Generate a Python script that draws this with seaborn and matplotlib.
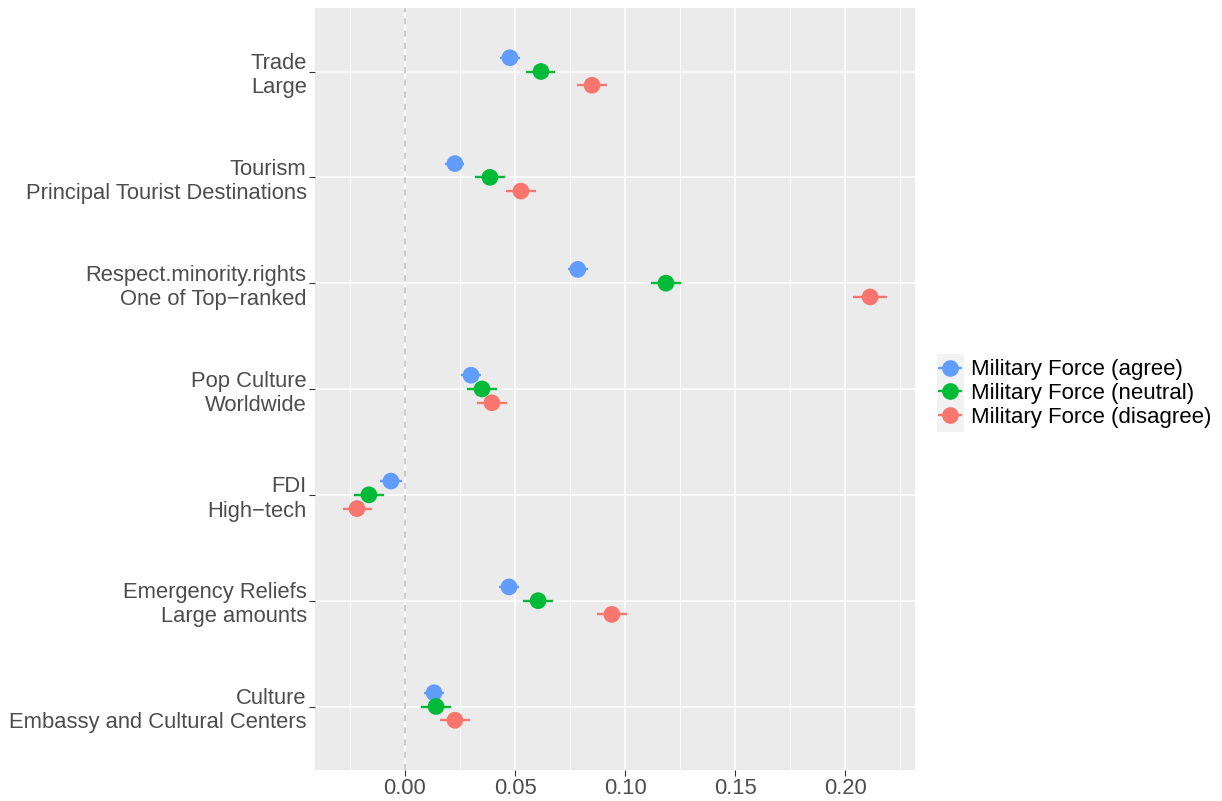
import numpy as np
import pandas as pd
import matplotlib.pyplot as plt
import seaborn as sns
from matplotlib.lines import Line2D
from matplotlib.patches import Rectangle

# -----------------------------
# Data
# -----------------------------
categories = [
    "Trade\nLarge",
    "Tourism\nPrincipal Tourist Destinations",
    "Respect.minority.rights\nOne of Top\u2212ranked",
    "Pop Culture\nWorldwide",
    "FDI\nHigh\u2212tech",
    "Emergency Reliefs\nLarge amounts",
    "Culture\nEmbassy and Cultural Centers",
]
groups = ["Military Force (agree)", "Military Force (neutral)", "Military Force (disagree)"]

agree_est = [0.0477, 0.0227, 0.0785, 0.0300, -0.0064, 0.0473, 0.0132]
agree_err = [0.0045, 0.0043, 0.0045, 0.0045, 0.0050, 0.0045, 0.0045]
neutral_est = [0.0618, 0.0386, 0.1186, 0.0350, -0.0164, 0.0605, 0.0141]
neutral_err = [0.0066, 0.0068, 0.0070, 0.0068, 0.0068, 0.0068, 0.0070]
disagree_est = [0.0850, 0.0527, 0.2114, 0.0395, -0.0218, 0.0940, 0.0227]
disagree_err = [0.0066, 0.0068, 0.0077, 0.0068, 0.0066, 0.0068, 0.0068]

colors = ["#619CFF", "#00BA38", "#F8766D"]
dodge = [0.13, 0.0, -0.13]

# -----------------------------
# Long table
# -----------------------------
rows = []
for g, est, err, off in zip(groups,
                            [agree_est, neutral_est, disagree_est],
                            [agree_err, neutral_err, disagree_err],
                            dodge):
    for i, cat in enumerate(categories):
        rows.append({"category": cat, "group": g, "est": est[i], "err": err[i],
                     "ypos": len(categories) - i + off})
df = pd.DataFrame(rows)

# -----------------------------
# Plot
# -----------------------------
sns.set_theme(style="darkgrid")
plt.rcParams["font.family"] = ["Liberation Sans", "DejaVu Sans"]

fig = plt.figure(figsize=(12.22, 8.01), dpi=100)
ax = fig.add_axes([315 / 1222, 1 - 770 / 801, 600 / 1222, 762 / 801])
ax.set_facecolor("#EBEBEB")

ax.axvline(0, color="#BEBEBE", lw=1.1, ls=(0, (4, 4)), zorder=1)

palette = dict(zip(groups, colors))
for g in groups:
    sub = df[df["group"] == g]
    ax.hlines(sub["ypos"], sub["est"] - sub["err"], sub["est"] + sub["err"],
              color=palette[g], lw=1.7, zorder=2)
sns.scatterplot(data=df, x="est", y="ypos", hue="group", palette=palette,
                s=145, edgecolor="none", legend=False, ax=ax, zorder=3)

ax.set_xlim(-0.0409, 0.2318)
ax.set_ylim(0.4, 7.6)
ax.set_xticks([0.0, 0.05, 0.10, 0.15, 0.20])
ax.set_xticklabels(["0.00", "0.05", "0.10", "0.15", "0.20"])
ax.set_xticks([-0.025, 0.025, 0.075, 0.125, 0.175, 0.225], minor=True)
ax.set_yticks(range(len(categories), 0, -1))
ax.set_yticklabels(categories)

ax.grid(which="major", color="white", lw=1.1)
ax.grid(which="minor", axis="x", color="white", lw=0.55)
ax.set_axisbelow(True)
for s in ax.spines.values():
    s.set_visible(False)

ax.tick_params(axis="both", which="major", length=4.5, width=0.8, color="#333333",
               labelcolor="#4D4D4D", labelsize=15.8, pad=1.5, bottom=True, left=True)
ax.tick_params(axis="both", which="minor", length=0)
ax.set_xlabel("")
ax.set_ylabel("")

# -----------------------------
# Legend
# -----------------------------
handles = [Line2D([0], [0], color=c, marker="o", markersize=12, lw=1.7,
                  markeredgewidth=0) for c in colors]
fig.patches.append(Rectangle((937 / 1222, 1 - 432 / 801), 27 / 1222, 78 / 801,
                             transform=fig.transFigure, facecolor="#F2F2F2",
                             edgecolor="none", zorder=0))
fig.legend(handles, groups, loc="center left", bbox_to_anchor=(939 / 1222, 1 - 393.5 / 801),
           frameon=False, fontsize=16.0, handlelength=1.0, handletextpad=0.45,
           labelspacing=0.12, borderpad=0, borderaxespad=0, labelcolor="black")

fig.savefig("out.png", dpi=100)
plt.close()
